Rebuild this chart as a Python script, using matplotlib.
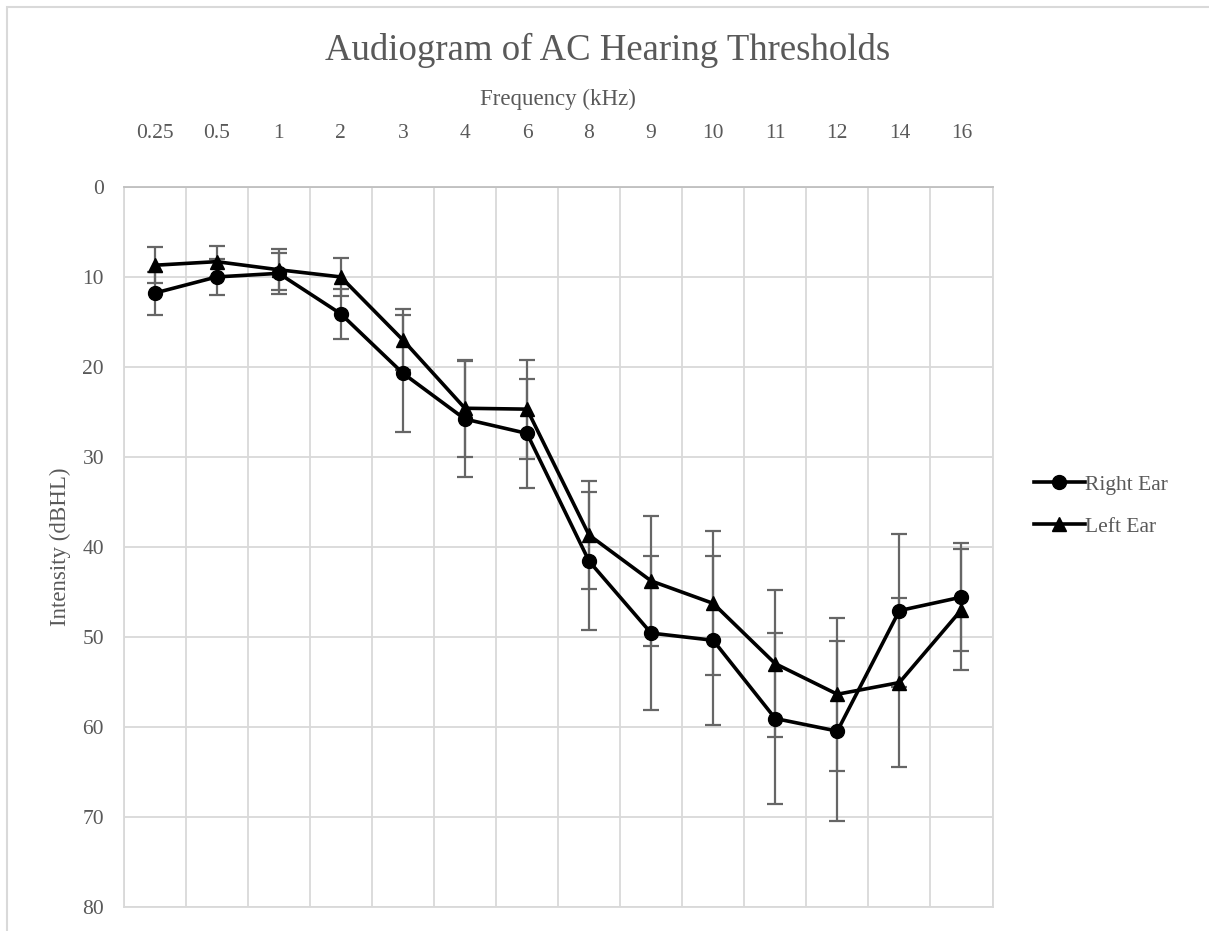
import numpy as np
import matplotlib.pyplot as plt
from matplotlib.patches import Rectangle

# Hearing thresholds (dBHL) by test frequency
freqs = ['0.25', '0.5', '1', '2', '3', '4', '6', '8', '9', '10', '11', '12', '14', '16']
right_ear = [11.8, 10.0, 9.6, 14.1, 20.7, 25.8, 27.4, 41.6, 49.6, 50.4, 59.1, 60.5, 47.1, 45.6]
right_err = [2.4, 2.0, 2.3, 2.8, 6.5, 6.4, 6.1, 7.7, 8.6, 9.4, 9.5, 10.0, 8.5, 6.0]
left_ear = [8.7, 8.3, 9.2, 10.0, 17.0, 24.6, 24.7, 38.7, 43.8, 46.3, 53.0, 56.4, 55.1, 47.0]
left_err = [2.0, 1.7, 2.3, 2.1, 3.4, 5.4, 5.5, 6.0, 7.2, 8.0, 8.2, 8.5, 9.4, 6.7]

plt.rcParams['font.family'] = ['Liberation Serif', 'DejaVu Serif']
text_col = '#595959'
grid_col = '#d9d9d9'

W, H = 1209, 931
fig = plt.figure(figsize=(W / 100, H / 100), dpi=100)
ax = fig.add_axes([123.5 / W, 1 - 906.5 / H, (992.5 - 123.5) / W, (906.5 - 187) / H])

# chart outline (only top and left edges fall inside the image)
fig.patches.append(Rectangle((7 / W, -0.1), 1.2, 1 - 7 / H + 0.1, transform=fig.transFigure,
                             fill=False, edgecolor='#d9d9d9', linewidth=1.5))

x = np.arange(len(freqs))
err_kw = dict(ecolor='#666666', elinewidth=1.6, capsize=6, capthick=1.6)
ax.errorbar(x, right_ear, yerr=right_err, fmt='none', zorder=3, **err_kw)
ax.errorbar(x, left_ear, yerr=left_err, fmt='none', zorder=3, **err_kw)
ax.plot(x, right_ear, color='black', lw=2.6, marker='o', ms=10, label='Right Ear', zorder=4)
ax.plot(x, left_ear, color='black', lw=2.6, marker='^', ms=9.5, label='Left Ear', zorder=4)

ax.set_xlim(-0.5, len(freqs) - 0.5)
ax.set_ylim(80, 0)
ax.set_yticks(np.arange(0, 81, 10))
ax.set_xticks(x)
ax.set_xticklabels(freqs)
ax.set_xticks(np.arange(-0.5, len(freqs)), minor=True)
ax.xaxis.tick_top()
ax.xaxis.set_label_position('top')
ax.tick_params(axis='both', which='both', length=0, labelsize=15.5, labelcolor=text_col)
ax.tick_params(axis='x', pad=32)
ax.tick_params(axis='y', pad=14)

ax.grid(True, axis='y', color=grid_col, lw=1.3)
ax.grid(True, axis='x', which='minor', color=grid_col, lw=1.3)
ax.grid(False, axis='x', which='major')
for side in ['left', 'right', 'bottom']:
    ax.spines[side].set_color(grid_col)
    ax.spines[side].set_linewidth(1.3)
ax.spines['top'].set_color('#bfbfbf')
ax.spines['top'].set_linewidth(1.3)
ax.set_axisbelow(True)

ax.set_xlabel('Frequency (kHz)', fontsize=16.5, color=text_col, labelpad=13)
ax.set_ylabel('Intensity (dBHL)', fontsize=16.5, color=text_col, labelpad=8)
fig.text(608 / W, 1 - 50 / H, 'Audiogram of AC Hearing Thresholds', ha='center', va='center',
         fontsize=26.5, color=text_col)

leg = ax.legend(loc='center left', bbox_to_anchor=(1.025, 0.557), frameon=False, fontsize=15.5,
                handlelength=2.4, handletextpad=0.0, labelspacing=1.0)
for t in leg.get_texts():
    t.set_color(text_col)

fig.savefig('out.png', dpi=100)
